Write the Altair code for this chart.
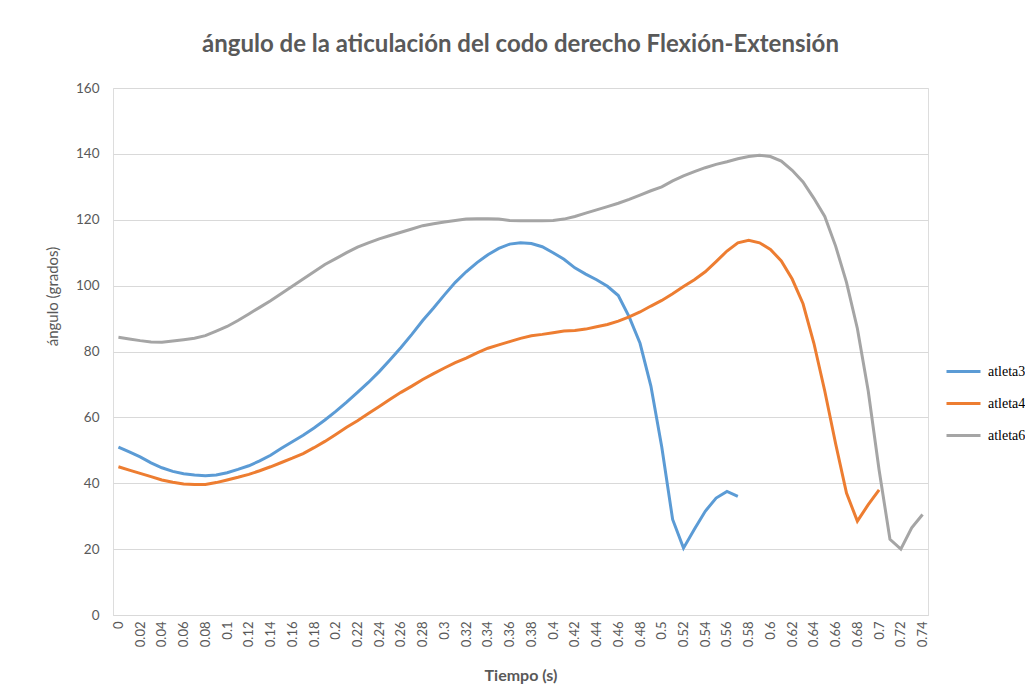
import altair as alt
import pandas as pd

# Time in seconds, step 0.01
atleta3 = [51.0, 49.5, 48.0, 46.2, 44.7, 43.6, 42.9, 42.5, 42.3, 42.5,
           43.2, 44.2, 45.3, 46.8, 48.5, 50.6, 52.6, 54.6, 56.8, 59.2,
           61.8, 64.6, 67.6, 70.6, 73.9, 77.5, 81.2, 85.2, 89.4, 93.2,
           97.2, 101.0, 104.2, 107.0, 109.4, 111.3, 112.6, 113.0, 112.8, 111.8,
           110.0, 108.0, 105.4, 103.5, 101.8, 99.8, 97.0, 90.5, 82.5, 69.5,
           51.0, 29.0, 20.3, 26.0, 31.5, 35.5, 37.5, 36.0]
atleta4 = [45.0, 44.0, 43.0, 42.0, 41.0, 40.3, 39.8, 39.6, 39.6, 40.2,
           41.0, 41.8, 42.7, 43.8, 45.0, 46.3, 47.6, 49.0, 50.8, 52.7,
           54.8, 57.0, 59.0, 61.2, 63.3, 65.5, 67.6, 69.5, 71.5, 73.3,
           75.0, 76.6, 78.0, 79.6, 81.0, 82.0, 83.0, 84.0, 84.8, 85.2,
           85.7, 86.2, 86.4, 86.8, 87.5, 88.2, 89.2, 90.5, 92.0, 93.8,
           95.5, 97.5, 99.7, 101.8, 104.2, 107.3, 110.5, 113.0, 113.8, 113.0,
           111.0, 107.5, 102.0, 94.5, 82.5, 68.0, 52.0, 37.0, 28.5, 33.5,
           38.0]
atleta6 = [84.3, 83.8, 83.3, 82.9, 82.8, 83.2, 83.6, 84.0, 84.8, 86.2,
           87.6, 89.4, 91.4, 93.4, 95.4, 97.6, 99.8, 102.0, 104.2, 106.4,
           108.2, 110.0, 111.7, 113.0, 114.2, 115.2, 116.2, 117.2, 118.2, 118.8,
           119.3, 119.8, 120.2, 120.3, 120.3, 120.2, 119.8, 119.7, 119.7, 119.7,
           119.8, 120.2, 121.0, 122.0, 123.0, 124.0, 125.0, 126.2, 127.5, 128.8,
           130.0, 131.8, 133.3, 134.6, 135.8, 136.8, 137.6, 138.5, 139.2, 139.6,
           139.2, 137.8, 135.0, 131.5, 126.5, 121.0, 112.0, 101.0, 87.0, 68.0,
           44.0, 23.0, 20.0, 26.5, 30.5]

series = {"atleta3": atleta3, "atleta4": atleta4, "atleta6": atleta6}
colors = ["#5B9BD5", "#ED7D31", "#A5A5A5"]
tick_values = [round(i * 0.02, 2) for i in range(38)]

rows = []
for name, vals in series.items():
    for i, v in enumerate(vals):
        rows.append({"t": round(i * 0.01, 2), "angulo": v, "atleta": name})
df = pd.DataFrame(rows)

FONT = "Lato"
GREY = "#595959"

chart = alt.Chart(df).mark_line(strokeWidth=3).encode(
    x=alt.X("t:Q",
            scale=alt.Scale(domain=[-0.005, 0.745], nice=False, zero=False),
            axis=alt.Axis(values=tick_values, format="~g", labelAngle=-90,
                          grid=False, ticks=False, domainColor="#D9D9D9",
                          labelColor=GREY, labelFont=FONT, labelFontSize=13,
                          labelPadding=6, labelOverlap=False,
                          title="Tiempo (s)", titleFont=FONT, titleFontSize=16,
                          titleFontWeight="bold", titleColor=GREY,
                          titleBaseline="middle", titleY=60)),
    y=alt.Y("angulo:Q",
            scale=alt.Scale(domain=[0, 160], nice=False),
            axis=alt.Axis(values=[0, 20, 40, 60, 80, 100, 120, 140, 160],
                          grid=True, gridColor="#D9D9D9", gridWidth=1,
                          domain=False, ticks=False, labelColor=GREY,
                          labelFont=FONT, labelFontSize=13.5, labelPadding=14,
                          title="ángulo (grados)", titleFont=FONT,
                          titleFontSize=15, titleFontWeight="normal",
                          titleColor=GREY, titleX=-61, titleY=208,
                          titleBaseline="middle")),
    color=alt.Color("atleta:N",
                    scale=alt.Scale(domain=list(series.keys()), range=colors),
                    legend=alt.Legend(title=None, orient="none",
                                      legendX=832, legendY=265,
                                      symbolType="stroke", symbolSize=1156,
                                      symbolStrokeWidth=3, rowPadding=6,
                                      labelFont="Liberation Serif",
                                      labelFontSize=14, labelColor="#000000",
                                      labelOffset=6)),
).properties(
    width=815,
    height=527,
    title=alt.TitleParams("ángulo de la aticulación del codo derecho Flexión-Extensión",
                          font=FONT, fontSize=24, fontWeight="bold",
                          color=GREY, anchor="middle", offset=24),
    autosize=alt.AutoSizeParams(type="none"),
    padding={"left": 105, "top": 80, "right": 97, "bottom": 69},
).configure_view(stroke=None).configure(background="white")

chart.save("out.html", embed_options={"renderer": "svg", "actions": False})
